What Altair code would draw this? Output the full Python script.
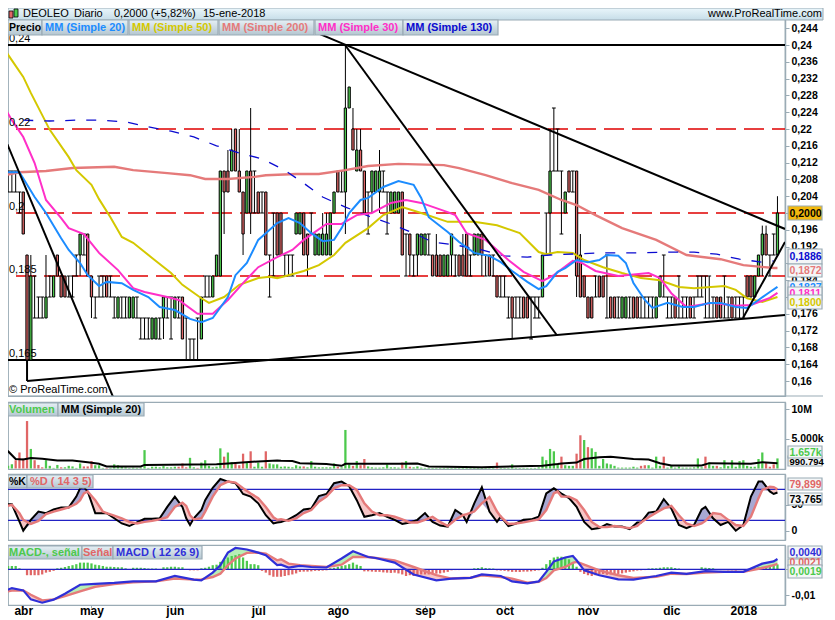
import altair as alt
import pandas as pd

# ---------- candles, in thousandths of a euro ----------
opens = [215,205,205,205,200,205,190,165,180,175, 175,175,180,180,190,185,185,180,180,185,
 190,190,195,185,175,180,180,185,180,175, 175,175,175,175,175,175,170,170,170,170,
 170,170,175,175,175,175,175,180,165,165, 165,165,170,180,180,180,185,185,210,210,
 210,220,210,205,200,210,205,205,200,205, 185,190,200,200,185,185,185,195,195,200,
 195,195,190,190,190,190,190,200,210,205, 205,225,220,210,215,210,200,205,205,205,
 205,200,200,200,200,205,190,195,185,190, 190,190,190,190,190,190,185,185,190,185,
 190,190,195,185,190,190,195,185,190,185, 185,180,180,175,180,175,175,180,180,175,
 175,175,180,190,200,210,210,205,200,210, 205,210,190,185,180,180,180,185,185,175,
 180,180,175,175,175,175,180,180,175,175, 175,175,175,180,180,175,175,180,175,175,
 175,180,175,180,180,175,175,175,180,180, 175,175,180,175,175,175,185,185,180,185,
 190,195,190,190,190]
closes = [210,205,205,205,200,195,165,185,180,175, 175,180,180,185,185,180,180,180,180,185,
 195,190,185,180,175,180,180,180,180,175, 180,175,175,180,180,175,170,170,170,175,
 175,170,180,175,175,180,175,170,165,165, 165,165,180,180,180,185,190,210,205,205,
 215,210,205,195,210,200,205,200,200,190, 185,190,190,190,185,185,185,200,200,190,
 190,195,195,195,195,195,200,205,205,205, 225,230,215,215,210,200,200,210,210,210,
 205,200,205,205,205,190,190,190,185,195, 195,195,190,185,185,185,190,190,195,185,
 185,185,185,185,195,195,190,185,185,185, 180,180,180,175,175,175,175,175,175,175,
 175,175,190,190,210,210,210,205,205,205, 205,185,180,180,175,175,180,180,180,175,
 175,175,175,180,180,175,175,175,175,175, 175,175,180,185,180,175,175,175,175,175,
 175,175,175,180,180,175,175,175,175,175, 175,175,175,175,175,175,180,180,185,190,
 195,190,190,190,200]
highs = [215,210,210,210,205,205,190,190,185,180, 180,190,185,185,190,185,185,185,185,190,
 195,195,195,185,180,185,185,185,185,180, 180,180,180,180,180,180,175,175,175,175,
 175,175,180,180,180,180,180,180,175,170, 170,175,180,185,185,185,190,210,210,215,
 220,220,220,205,210,225,210,205,205,205, 190,200,200,200,190,190,190,200,200,200,
 195,200,195,195,200,200,200,205,210,210, 240,230,225,220,220,210,205,210,210,215,
 210,205,205,205,205,205,195,195,190,195, 195,195,195,190,195,190,190,190,195,190,
 190,195,195,190,195,195,195,190,190,190, 185,185,185,180,180,180,180,180,180,180,
 180,180,190,200,220,225,220,210,205,210, 210,210,195,185,180,180,185,185,185,190,
 180,180,180,180,180,180,180,180,180,180, 180,180,180,185,190,180,180,180,185,180,
 180,180,180,185,185,185,185,180,180,180, 185,180,180,180,180,180,185,185,185,190,
 197,197,190,195,204]
lows = [210,205,205,205,200,195,165,165,175,175, 175,175,180,180,185,180,180,180,180,185,
 185,190,185,175,175,180,180,180,180,175, 175,175,175,175,175,175,170,170,170,170,
 170,170,170,175,170,175,175,170,165,165, 165,165,170,180,180,180,185,185,195,205,
 210,210,205,190,200,195,200,200,200,190, 180,185,190,190,185,185,185,195,195,190,
 185,195,190,190,190,190,190,200,205,205, 195,225,215,210,210,200,195,200,205,200,
 205,195,200,200,200,190,185,185,185,185, 190,190,190,185,185,185,185,185,185,185,
 185,185,185,185,190,190,185,185,185,185, 180,180,180,175,170,175,175,175,175,170,
 175,175,180,190,190,210,210,195,200,205, 205,180,180,180,175,175,180,180,180,175,
 175,175,175,175,175,175,175,175,175,175, 175,175,175,180,180,175,175,175,175,175,
 175,175,175,180,180,175,175,175,175,175, 175,175,175,175,175,175,180,180,180,185,
 185,190,185,190,190]

# ---------- moving averages on the price panel ----------
ma20_i = [1,4,8,11,15,17,20,22,25,27,31,34,38,41,45,49,52,55,59,61,64,67,69,72,75,78,81,84,87,89,91,94,96,100,104,108,110,112,117,120,124,128,131,134,138,141,143,146,148,151,154,157,159,162,164,166,169,171,175,179,182,186,189,193,196,199,202,204]
ma20_v = [209.7,209.7,203.8,200.0,194.0,191.2,188.1,185.2,182.6,183.6,183.3,181.7,180.0,177.6,176.9,174.8,174.0,175.0,180.0,185.2,188.1,193.6,195.2,197.6,198.8,197.6,195.2,193.3,193.6,196.4,200.0,203.1,203.6,206.2,207.6,206.7,203.6,199.0,195.5,193.1,190.5,189.8,188.3,186.2,183.6,181.9,182.6,186.0,186.9,188.8,188.3,188.8,190.0,189.8,188.1,183.3,179.3,177.4,178.6,177.6,177.6,178.6,178.6,177.6,177.4,179.3,181.2,182.4]
ma50_i = [0,5,7,12,17,19,23,25,28,31,34,39,44,47,52,54,58,62,67,70,72,75,79,83,87,90,96,100,105,110,117,124,130,136,141,143,146,150,153,158,163,168,173,178,182,190,193,196,200,204]
ma50_v = [239.0,232.4,228.6,219.8,213.3,210.2,206.7,203.3,199.0,194.3,192.9,189.3,185.7,182.9,179.7,178.6,180.0,182.9,184.5,184.8,184.5,185.2,186.2,187.6,190.0,192.9,196.4,199.5,201.4,200.0,197.9,197.9,197.1,195.2,190.7,190.2,190.7,190.5,188.8,187.1,185.7,184.5,184.0,182.4,182.1,182.6,181.7,179.7,178.8,180.0]
ma200_i = [0,4,11,18,29,34,43,49,53,59,66,69,77,83,90,96,104,116,120,127,134,141,147,151,156,163,172,180,189,195,203,204]
ma200_v = [209.0,209.7,210.0,210.7,211.0,210.2,209.5,209.0,208.1,208.1,208.6,209.0,209.3,209.3,210.2,211.2,211.7,211.4,210.7,209.0,207.1,205.5,203.1,201.9,199.5,196.4,193.6,190.0,189.0,187.6,186.9,186.9]
ma30_i = [0,2,5,8,11,15,17,21,25,30,34,37,43,46,51,55,59,63,67,72,76,79,85,89,93,97,102,106,110,117,119,122,127,133,137,142,145,150,152,156,162,170,173,176,180,187,193,197,202,204]
ma30_v = [225.2,222.1,218.1,211.9,203.1,198.8,196.4,195.0,190.5,186.4,182.1,181.2,180.0,179.3,176.0,176.0,179.3,183.3,187.1,189.5,191.2,193.6,197.4,197.4,199.5,200.0,202.4,203.1,202.4,200.2,199.5,195.2,193.6,188.8,186.0,183.8,185.2,188.6,188.3,186.2,185.0,185.7,184.5,180.9,177.6,178.6,177.9,178.1,179.8,181.0]
ma130_i = [5,12,19,25,32,38,44,50,56,62,68,74,79,84,90,96,102,108,113,119,126,132,138,144,157,166,176,182,188,194,200,203]
ma130_v = [222.1,221.9,222.1,222.1,221.7,220.5,219.5,218.1,216.0,214.3,212.9,210.2,207.1,203.8,201.4,199.3,197.4,195.2,193.1,192.4,191.2,189.8,189.5,190.0,190.5,190.5,190.7,190.7,190.2,189.0,188.3,188.6]

# ---------- drawn trend lines: bar, price, bar, price ----------
trend_from_i = [-1.1,6,6,83.3,89.9,194.9]
trend_from_p = [220.5,160.0,165.0,242.6,240.0,175.0]
trend_to_i = [28.7,206,6,206,145.8,206]
trend_to_p = [156.2,175.7,160.0,196.2,170.9,193.1]

level_black = [240,165]
level_red = [220,200,185]
level_text_p = [240,220,200,185,165]
level_text = ["0,24","0,22","0,2","0,185","0,165"]

# ---------- volume, millions; negative means a red bar ----------
volume = [1.4,.45,.7,-1.4,-2.7,-1.7,-8.0,3.3,-1.4,-.6, -.2,1.4,.45,.1,.6,-.2,.2,.45,.35,.1,
 .85,-.35,-.35,-1.25,.55,.55,.1,-.1,.1,.7, .55,.3,.2,.1,.15,.1,.15,3.1,.1,.3,
 .3,.2,.4,.2,.2,.3,-.3,-.85,-.2,1.8, .2,-.1,1.0,1.4,.45,.2,.3,3.4,-2.0,2.7,
 1.1,-.85,-.55,-2.5,1.0,-2.9,.3,1.0,.3,-2.9, .85,.7,.7,.3,.35,.3,.2,.55,.35,-.35,
 .2,1.25,.3,.2,.2,.2,.2,.85,-.3,.2, 6.5,.7,-.45,1.25,-.55,-1.6,.35,.2,.15,.15,
 .2,.7,.2,.2,.15,-1.0,1.25,-.3,.2,.35, .15,.1,.1,.1,.1,.1,.1,.1,.1,.1,
 .1,.1,.1,.1,.1,.1,.1,.1,.1,.1, -1.0,.1,.1,.1,.7,.1,.1,.1,.1,.1,
 .1,.2,2.0,1.4,3.3,2.9,.85,-2.0,.55,.45, .45,-2.5,-5.6,4.8,-3.6,3.4,2.8,.45,1.6,.85,
 .7,.45,.15,.15,.15,.15,.3,.15,-.45,-.55, .55,.15,2.0,.45,-2.0,.15,.45,.15,.35,.15,
 .15,.15,.2,1.7,.2,-2.0,1.0,.45,-.45,.2, 1.4,.4,1.4,.3,1.25,1.4,.45,.3,.3,1.6,
 2.7,-1.0,-.3,-.7,1.7]
volma_i = [0,1,3,5,7,10,14,18,22,25,27,36,37,56,60,67,72,73,76,78,85,89,90,104,109,112,126,142,146,147,151,153,157,160,166,170,173,176,184,186,197,200,204]
volma_v = [3.0,2.9,1.6,1.5,1.75,1.65,1.35,1.35,1.05,.8,.35,.35,.6,.7,.9,1.2,1.35,1.3,1.25,.9,.75,.45,.8,.8,.85,.35,.22,.45,.75,.85,1.0,1.6,1.9,2.0,1.6,1.5,.9,.5,.5,.9,.8,1.05,.9]

# ---------- stochastic ----------
sto_i = [0,2,4,5,7,9,11,13,15,17,19,20,21,22,24,26,27,29,31,33,35,37,39,41,43,45,47,48,49,50,52,53,55,57,59,61,63,65,67,69,71,72,
 73,75,77,79,81,83,85,87,89,91,93,95,97,99,101,103,105,107,109,111,113,115,117,119,121,122,124,126,128,130,131,133,135,137,139,141,143,145,146,
 147,149,151,153,155,157,159,161,163,165,167,168,170,172,174,176,178,180,182,184,185,187,189,191,193,195,197,199,200,202,203,204]
sto_k = [51,51,17.5,0,21,37,34,41,45,45,66,82,84,76,34,34,34,24,14,9,16,23,23,24,46,66,46,24,11,24,40,59,83,100,95,92,71,66,53,30,14,16,
 17,22,30,41,43,67,71,92,95,86,59,27,30,34,27,21,13,16,21,34,17,10,8,40,30,17,53,84,37,17,27,9,14,21,22,27,72,82,77,
 72,63,46,17,3,5,13,8,8,3,16,16,35,37,61,43,11,5,11,41,46,24,11,17,0,11,66,95,95,76,71,73.8]
sto_d = [46.5,50,34,21,13,19,32,37,41,45,52,59,72,76,59,37,34,29,24,17,14,17,19,22,26,46,54,48,30,22,24,37,66,88,95,93,82,72,63,46,26,21,
 22,19,24,34,40,56,66,82,88,88,79,53,37,30,30,27,22,16,16,21,27,17,9,21,30,32,37,53,65,37,27,13,14,16,19,22,40,72,76,
 66,66,59,40,17,7,7,9,7,5,9,16,26,35,43,48,30,14,9,14,19,34,32,21,11,9,27,63,79,85,84,79.9]

# ---------- MACD, in units of 0.0001 ----------
macd_i = [0,2,5,7,10,13,16,20,24,29,34,40,45,50,52,55,57,59,61,64,67,69,72,73,75,78,81,85,89,92,96,98,103,108,114,118,123,126,131,134,138,141,143,145,148,150,151,153,157,162,166,172,176,180,185,190,195,200,203,204]
macd_m = [-85,-73,-82,-117,-130,-118,-95,-60,-57,-53,-47,-47,-26,-40,-43,-13,16,65,83,77,65,55,16,18,7,13,9,7,42,70,48,44,26,-20,-43,-36,-33,-20,-26,-47,-55,-47,-10,31,46,52,35,-4,-23,-39,-40,-26,-13,-18,-7,-10,-10,22,31,40]
macd_s = [-88,-83,-82,-99,-121,-117,-104,-86,-68,-57,-51,-47,-36,-40,-39,-30,-17,16,42,64,65,61,35,39,22,16,13,9,18,48,48,44,35,9,-23,-36,-33,-23,-30,-36,-52,-49,-34,-4,9,25,29,18,-4,-23,-34,-29,-17,-18,-13,-10,-10,5,16,21]
macd_h = [13,13,13,13,4,0,-23,-23,-23,-23, -20,-13,-10,-6,4,6,9,13,16,20,
 26,26,26,23,18,16,13,10,10,9, 8,8,4,0,6,6,6,5,3,3,
 3,0,8,8,10,10,8,8,0,-4, -4,-4,4,6,10,16,18,29,36,46,
 52,55,59,46,33,20,20,16,-6,-13, -23,-29,-29,-29,-26,-23,-20,-16,-10,-9,
 -9,-8,-6,-6,-5,-4,4,6,10,13, 16,20,26,18,13,-8,-8,-9,-10,-10,
 -12,-13,-14,-13,-16,-20,-26,-23,-26,-23, -20,-20,-20,-17,-17,-16,-13,-10,-4,-3,
 -3,-1,-1,0,4,5,8,5,4,3, -4,-5,-6,-8,-10,-10,-10,-9,-9,-8,
 -6,-4,6,20,36,46,49,49,46,39, 26,10,-10,-18,-23,-26,-23,-20,-18,-21,
 -20,-18,-18,-16,-13,-10,-8,-5,-4,-3, 3,4,4,6,8,8,8,5,3,1,
 0,-1,-1,1,8,6,5,4,-1,-3, -3,-4,-4,-5,-1,-1,0,4,5,8,
 10,13,16,18,19]

month_i = [5,23,45,67,88,111,132,154,176,195]
month_t = ["abr","may","jun","jul","ago","sep","oct","nov","dic","2018"]

price_ticks = [0.16,0.164,0.168,0.172,0.176,0.18,0.184,0.188,0.192,0.196,0.2,0.204,0.208,0.212,0.216,0.22,0.224,0.228,0.232,0.236,0.24,0.244]

# ---------- styles ----------
FONT = "Liberation Sans"
GREEN, RED = "#4cc94c", "#e06666"
BORDER = "#9aabb5"
W = 777
RIGHT = 815
TAGSIZE = 10.5
one = pd.DataFrame({"a": [0]})
xs = alt.Scale(domain=[0.976, 205.99], nice=False, zero=False)
chipfill = alt.LinearGradient(gradient="linear", x1=0, x2=0, y1=0, y2=1,
    stops=[alt.GradientStop(color="#e6f0f5", offset=0), alt.GradientStop(color="#b4c6d0", offset=1)])
bandfill = alt.LinearGradient(gradient="linear", x1=0, x2=0, y1=0, y2=1,
    stops=[alt.GradientStop(color="#eaf6fb", offset=0), alt.GradientStop(color="#c6dde8", offset=1)])


def chip(x0, x1, y0, y1, text, color, fill=chipfill, size=11, pad=3):
    r = alt.Chart(one).mark_rect(fill=fill, stroke=BORDER, strokeWidth=1.2).encode(
        x=alt.value(x0), x2=alt.value(x1), y=alt.value(y0), y2=alt.value(y1))
    t = alt.Chart(one).mark_text(text=text, color=color, font=FONT, fontWeight="bold", fontSize=size,
                                 align="left", baseline="middle").encode(
        x=alt.value(x0 + pad), y=alt.value((y0 + y1) / 2 + 0.5))
    return [r, t]


def tag(y0, y1, text, color, fill="#f4f6f7", size=TAGSIZE):
    return chip(780, RIGHT - 1, y0, y1, text, color, fill=fill, size=size, pad=1.5)


def label(x, y, text, size=11, weight="normal", align="left", color="black"):
    return alt.Chart(one).mark_text(text=text, color=color, font=FONT, fontWeight=weight, fontSize=size,
                                    align=align, baseline="middle").encode(x=alt.value(x), y=alt.value(y))


def y_axis(values, expr):
    return alt.Axis(orient="right", values=values, labelExpr=expr, grid=False, tickSize=4, tickColor=BORDER,
                    domainColor=BORDER, domainWidth=1.5, labelFont=FONT, labelFontWeight="bold", labelFontSize=10.5,
                    labelColor="black", labelPadding=2, labelOverlap=False, labelFlush=False, title=None)


def line(idx, vals, yenc, color, width=2.0, factor=1.0, dash=None, xenc=None):
    d = pd.DataFrame({"i": idx, "p": [v * factor for v in vals]})
    kw = {"strokeDash": dash} if dash else {}
    return alt.Chart(d).mark_line(color=color, strokeWidth=width, clip=True, **kw).encode(
        x=xenc if xenc is not None else hx, y=yenc)


hx = alt.X("i:Q", scale=xs, axis=None)

# ---------- price panel ----------
py_scale = alt.Scale(domain=[0.15643, 0.24881], nice=False, zero=False)
py_axis = y_axis(price_ticks, "replace(format(datum.value,'.3~f'),'.',',')")
def pyf(f):
    return alt.Y(f, scale=py_scale, axis=py_axis, title=None)
py = pyf("p:Q")
bars = pd.DataFrame({"i": range(len(opens)), "o": opens, "c": closes, "h": highs, "l": lows})
for col in "ochl":
    bars[col] = bars[col] / 1000
bars["x0"] = bars["i"] - 0.3
bars["x1"] = bars["i"] + 0.3
bars["sx0"] = bars["i"] - 0.5
bars["sx1"] = bars["i"] + 0.5
doji = bars[bars.o == bars.c]
solid = bars[bars.o != bars.c].copy()
solid["kind"] = ["up" if c > o else "down" for o, c in zip(solid.o, solid.c)]

wicks = alt.Chart(bars).mark_rule(color="black", strokeWidth=1, clip=True).encode(
    x=hx, y=pyf("h:Q"), y2="l:Q")
ser_hi = alt.Chart(doji).mark_rule(color="black", strokeWidth=1, clip=True).encode(
    x=alt.X("sx0:Q", scale=xs, axis=None), x2="sx1:Q", y=pyf("h:Q"))
ser_lo = alt.Chart(doji).mark_rule(color="black", strokeWidth=1, clip=True).encode(
    x=alt.X("sx0:Q", scale=xs, axis=None), x2="sx1:Q", y=pyf("l:Q"))
bodies = alt.Chart(solid).mark_rect(stroke="black", strokeWidth=1, clip=True).encode(
    x=alt.X("x0:Q", scale=xs, axis=None), x2="x1:Q",
    y=pyf("o:Q"), y2="c:Q",
    fill=alt.Fill("kind:N", legend=None, scale=alt.Scale(domain=["up", "down"], range=[GREEN, RED])))

red_levels = alt.Chart(pd.DataFrame({"p": [v / 1000 for v in level_red]})).mark_rule(
    color="#e00000", strokeWidth=1.3, strokeDash=[20, 8], strokeDashOffset=7).encode(y=py)
black_levels = alt.Chart(pd.DataFrame({"p": [v / 1000 for v in level_black]})).mark_rule(
    color="black", strokeWidth=2.2).encode(y=py)
trend = alt.Chart(pd.DataFrame({"i": trend_from_i, "p": [v / 1000 for v in trend_from_p],
                                "i2": trend_to_i, "p2": [v / 1000 for v in trend_to_p]})).mark_rule(
    color="black", strokeWidth=2, clip=True).encode(
    x=hx, x2="i2:Q", y=py, y2="p2:Q")
level_labels = alt.Chart(pd.DataFrame({"p": [v / 1000 for v in level_text_p], "t": level_text})).mark_text(
    font=FONT, fontSize=11, align="left", baseline="middle", dy=-6, color="black").encode(
    x=alt.value(1), y=py, text="t:N")

price_layers = [
    red_levels, black_levels, wicks, ser_hi, ser_lo, bodies,
    line(ma200_i, ma200_v, py, "#e57a7a", 2.4, 0.001),
    line(ma50_i, ma50_v, py, "#d4c800", 2.0, 0.001),
    line(ma130_i, ma130_v, py, "#0a0ad0", 1.3, 0.001, dash=[10, 11]),
    line(ma30_i, ma30_v, py, "#ff2fc8", 2.0, 0.001),
    line(ma20_i, ma20_v, py, "#1c8cff", 2.0, 0.001),
    trend, level_labels,
    # header band
    alt.Chart(one).mark_rect(fill=bandfill, stroke=BORDER, strokeWidth=1).encode(
        x=alt.value(0), x2=alt.value(RIGHT), y=alt.value(0), y2=alt.value(12)),
    alt.Chart(one).mark_rect(fill=RED, stroke="black", strokeWidth=0.8).encode(
        x=alt.value(1), x2=alt.value(5), y=alt.value(3), y2=alt.value(10)),
    alt.Chart(one).mark_rect(fill=GREEN, stroke="black", strokeWidth=0.8).encode(
        x=alt.value(6), x2=alt.value(10), y=alt.value(1), y2=alt.value(9)),
    label(15, 6, "DEOLEO"), label(66, 6, "Diario"), label(106, 6, "0,2000 (+5,82%)"),
    label(195, 6, "15-ene-2018"), label(RIGHT - 1, 6, "www.ProRealTime.com", align="right"),
    label(1, 382, "© ProRealTime.com"),
    alt.Chart(one).mark_rule(color=BORDER, strokeWidth=1.2).encode(
        x=alt.value(0), x2=alt.value(RIGHT), y=alt.value(388)),
]
for a in [(0, 34, "Precio", "black", 10.5), (34, 120, "MM (Simple 20)", "#1c8cff", 11),
          (121, 210, "MM (Simple 50)", "#d4c800", 11), (211, 306, "MM (Simple 200)", "#e57a7a", 11),
          (307, 395, "MM (Simple 30)", "#ff2fc8", 11), (395, 490, "MM (Simple 130)", "#0a0ad0", 11)]:
    price_layers += chip(a[0], a[1], 12, 27, a[2], a[3], size=a[4], pad=1 if a[0] == 0 else 3)
price_layers += tag(198, 212, "0,2000", "black", fill="#f2b90f")
price_layers += tag(241, 256, "0,1886", "#0a0ad0")
price_layers += tag(256, 269, "0,1872", "#e57a7a")
price_layers += tag(273, 286, "0,1827", "#1c8cff")
price_layers += tag(279, 292, "0,1811", "#ff2fc8")
price_layers += tag(287, 301, "0,1800", "#d4c800")
price = alt.layer(*price_layers).properties(width=W, height=388)

# ---------- volume panel ----------
vy_scale = alt.Scale(domain=[-0.084, 11.21], nice=False, zero=False)
vy = alt.Y("p:Q", scale=vy_scale, title=None, axis=y_axis([5, 10], "datum.value==10 ? '10M' : '5.000k'"))
vd = pd.DataFrame({"i": range(len(volume)), "p": [abs(v) for v in volume],
                   "kind": ["up" if v > 0 else "down" for v in volume], "zero": 0.0})
vd["x0"] = vd["i"] - 0.3
vd["x1"] = vd["i"] + 0.3
vbars = alt.Chart(vd).mark_rect(clip=True).encode(
    x=alt.X("x0:Q", scale=xs, axis=None), x2="x1:Q", y=vy, y2="zero:Q",
    fill=alt.Fill("kind:N", legend=None, scale=alt.Scale(domain=["up", "down"], range=[GREEN, RED])))
vol_layers = [vbars, line(volma_i, volma_v, vy, "black", 2.0)]
vol_layers += chip(0, 50, 1, 14, "Volumen", GREEN, pad=1) + chip(50, 136, 1, 14, "MM (Simple 20)", "black")
vol_layers += tag(54, 64, "990.794", "black", size=9.5)
vol_layers += tag(44, 56, "1.657k", GREEN)
volume_chart = alt.layer(*vol_layers).properties(width=W, height=67)

# ---------- stochastic panel ----------
sy_scale = alt.Scale(domain=[-18.0, 109.7], nice=False, zero=False)
sy_axis = y_axis([0, 50], "format(datum.value,'d')")
sy = alt.Y("p:Q", scale=sy_scale, axis=sy_axis, title=None)
sd = pd.DataFrame({"i": sto_i, "p": sto_k, "d": sto_d})
sd["lo"] = sd[["p", "d"]].min(axis=1)
sto_up = alt.Chart(sd).mark_area(color="#a8a8d2", clip=True).encode(x=hx, y=sy, y2="lo:Q")
sto_dn = alt.Chart(sd).mark_area(color="#f6c6c6", clip=True).encode(
    x=hx, y=alt.Y("d:Q", scale=sy_scale, axis=sy_axis, title=None), y2="lo:Q")
sto_lines = alt.Chart(pd.DataFrame({"p": [20, 80]})).mark_rule(color="#2222c4", strokeWidth=1.2).encode(y=sy)
sto_layers = [sto_dn, sto_up, sto_lines,
              line(sto_i, sto_k, sy, "black", 2.0), line(sto_i, sto_d, sy, "#e57a7a", 2.4)]
sto_layers += chip(0, 19, 1, 14, "%K", "black", size=10.5, pad=1) + chip(19, 85, 1, 14, "%D ( 14 3 5)", "#e06666")
sto_layers += tag(4, 16, "79,899", "#e06666")
sto_layers += tag(19, 31, "73,765", "black")
sto_chart = alt.layer(*sto_layers).properties(width=W, height=66)

# ---------- MACD panel ----------
my_scale = alt.Scale(domain=[-138.9, 94.6], nice=False, zero=False)
my_axis = y_axis([-100, 0], "datum.value==0 ? '0' : '-0,01'")
my = alt.Y("p:Q", scale=my_scale, axis=my_axis, title=None)
month_expr = "{" + ",".join(f"'{i}':'{t}'" for i, t in zip(month_i, month_t)) + "}[datum.value]"
mx_axis = alt.Axis(values=month_i, labelExpr=month_expr, grid=False, tickSize=3, tickColor=BORDER, domain=False,
                   labelFont=FONT, labelFontWeight="bold", labelFontSize=12, labelColor="black", labelPadding=-3,
                   labelOverlap=False, labelFlush=False, title=None)
mx = alt.X("i:Q", scale=xs, axis=mx_axis, title=None)
md = pd.DataFrame({"i": macd_i, "p": macd_m, "s": macd_s})
md["lo"] = md[["p", "s"]].min(axis=1)
mac_up = alt.Chart(md).mark_area(color="#b6efb6", clip=True).encode(x=mx, y=my, y2="lo:Q")
mac_dn = alt.Chart(md).mark_area(color="#f6c6c6", clip=True).encode(
    x=mx, y=alt.Y("s:Q", scale=my_scale, axis=my_axis, title=None), y2="lo:Q")
hd = pd.DataFrame({"i": range(len(macd_h)), "p": macd_h, "zero": 0.0,
                   "kind": ["up" if v >= 0 else "down" for v in macd_h]})
hd["x0"] = hd["i"] - 0.3
hd["x1"] = hd["i"] + 0.3
hist = alt.Chart(hd).mark_rect(clip=True).encode(
    x=alt.X("x0:Q", scale=xs, axis=mx_axis, title=None), x2="x1:Q", y=my, y2="zero:Q",
    fill=alt.Fill("kind:N", legend=None, scale=alt.Scale(domain=["up", "down"], range=[GREEN, RED])))
zero_line = alt.Chart(pd.DataFrame({"p": [0]})).mark_rule(color="#2222c4", strokeWidth=1.2).encode(y=my)
mac_layers = [mac_up, mac_dn, hist, zero_line,
              line(macd_i, macd_s, my, "#e57a7a", 2.4, xenc=mx),
              line(macd_i, macd_m, my, "#2f2fd8", 2.2, xenc=mx)]
mac_layers += chip(0, 74, 1, 14, "MACD-, señal", GREEN, pad=1) + chip(74, 105, 1, 14, "Señal", "#e06666", pad=1)
mac_layers += chip(105, 194, 1, 14, "MACD ( 12 26 9)", "#2f2fd8")
mac_layers += tag(1, 13, "0,0040", "#2f2fd8")
mac_layers += tag(14, 21, "0,0021", "#e06666")
mac_layers += tag(20, 33, "0,0019", GREEN)
mac_layers.append(alt.Chart(one).mark_rule(color=BORDER, strokeWidth=1.2).encode(
    x=alt.value(0), x2=alt.value(RIGHT), y=alt.value(80.5)))
mac_chart = alt.layer(*mac_layers).properties(width=W, height=60)

chart = alt.vconcat(price, volume_chart, sto_chart, mac_chart, spacing=3).properties(
    padding={"left": -2, "top": -2, "right": 0, "bottom": 0}, background="white"
).configure_view(stroke=BORDER, strokeWidth=1.2).resolve_scale(fill="independent")

chart.save("out.html", embed_options={"renderer": "svg", "actions": False})
